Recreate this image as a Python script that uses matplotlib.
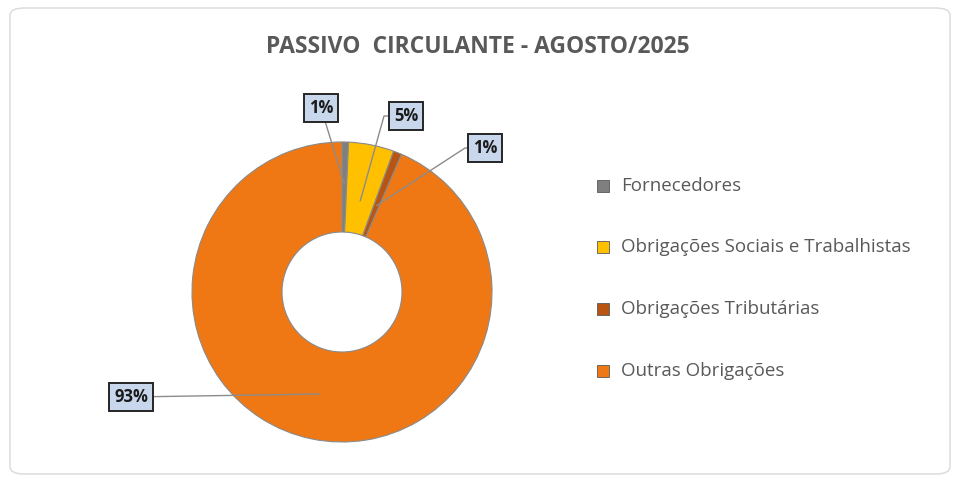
import numpy as np
import matplotlib.pyplot as plt
from matplotlib.patches import FancyBboxPatch

categorias = ['Fornecedores', 'Obrigações Sociais e Trabalhistas',
              'Obrigações Tributárias', 'Outras Obrigações']
valores = [0.7, 4.9, 0.9, 93.5]
rotulos = ['1%', '5%', '1%', '93%']
cores = ['#7f7f7f', '#ffc000', '#b85512', '#f07814']

W, H = 959, 482
fig = plt.figure(figsize=(W / 100, H / 100), dpi=100)
fig.patch.set_facecolor('white')

# moldura arredondada
frame = FancyBboxPatch((10 / W, 8 / H), 940 / W, 466 / H,
                       boxstyle='round,pad=0,rounding_size=0.015',
                       transform=fig.transFigure, fc='none', ec='#d9d9d9', lw=1, zorder=-1)
fig.patches.append(frame)

fig.text(478 / W, 1 - 47 / H, 'PASSIVO  CIRCULANTE - AGOSTO/2025',
         ha='center', va='center', fontsize=16.5, fontweight='bold',
         color='#595959', family='Open Sans')

cx, cy, r = 342, 292, 150
ax = fig.add_axes([(cx - r) / W, (H - cy - r) / H, 2 * r / W, 2 * r / H])

wedges, _ = ax.pie(valores, colors=cores, startangle=90, counterclock=False,
                   radius=1, wedgeprops=dict(width=0.6, edgecolor='#8a8a8a', linewidth=0.8))
ax.set_xlim(-1, 1)
ax.set_ylim(-1, 1)
ax.set_aspect('equal')
ax.axis('off')

# posicoes das caixas (pixels) e estilo da linha de chamada
pos_px = [(321, 108), (406, 116), (485, 148), (131, 397)]
raio_linha = [0.72, 0.62, 0.62, 0.2]
conexoes = ['arc3,rad=0',
            'arc,angleA=180,armA=22,angleB=0,armB=0,rad=0',
            'arc,angleA=180,armA=20,angleB=0,armB=0,rad=0',
            'arc3,rad=0']
for w, txt, (px, py), rr, cs in zip(wedges, rotulos, pos_px, raio_linha, conexoes):
    ang = np.deg2rad((w.theta1 + w.theta2) / 2)
    x0, y0 = rr * np.cos(ang), rr * np.sin(ang)
    if txt == '93%':
        x0, y0 = -0.15, -0.68
    tx, ty = (px - cx) / r, (cy - py) / r
    ax.annotate(txt, xy=(x0, y0), xytext=(tx, ty), ha='center', va='center',
                fontsize=12, fontweight='bold', color='#1a1a1a', family='Open Sans',
                bbox=dict(boxstyle='square,pad=0.3', fc='#c8d7ec', ec='#262626', lw=1.4),
                arrowprops=dict(arrowstyle='-', color='#8c8c8c', lw=1,
                                shrinkA=0, shrinkB=0, connectionstyle=cs),
                annotation_clip=False)

# legenda
leg_y = [186, 247, 309, 371]
for cat, cor, py in zip(categorias, cores, leg_y):
    fig.patches.append(plt.Rectangle((597 / W, 1 - (py + 6) / H), 12 / W, 12 / H,
                                     transform=fig.transFigure, fc=cor, ec='#595959', lw=0.6))
    fig.text(621 / W, 1 - py / H, cat, ha='left', va='center', fontsize=13.5,
             color='#595959', family='Open Sans')

fig.savefig('out.png', dpi=100)
